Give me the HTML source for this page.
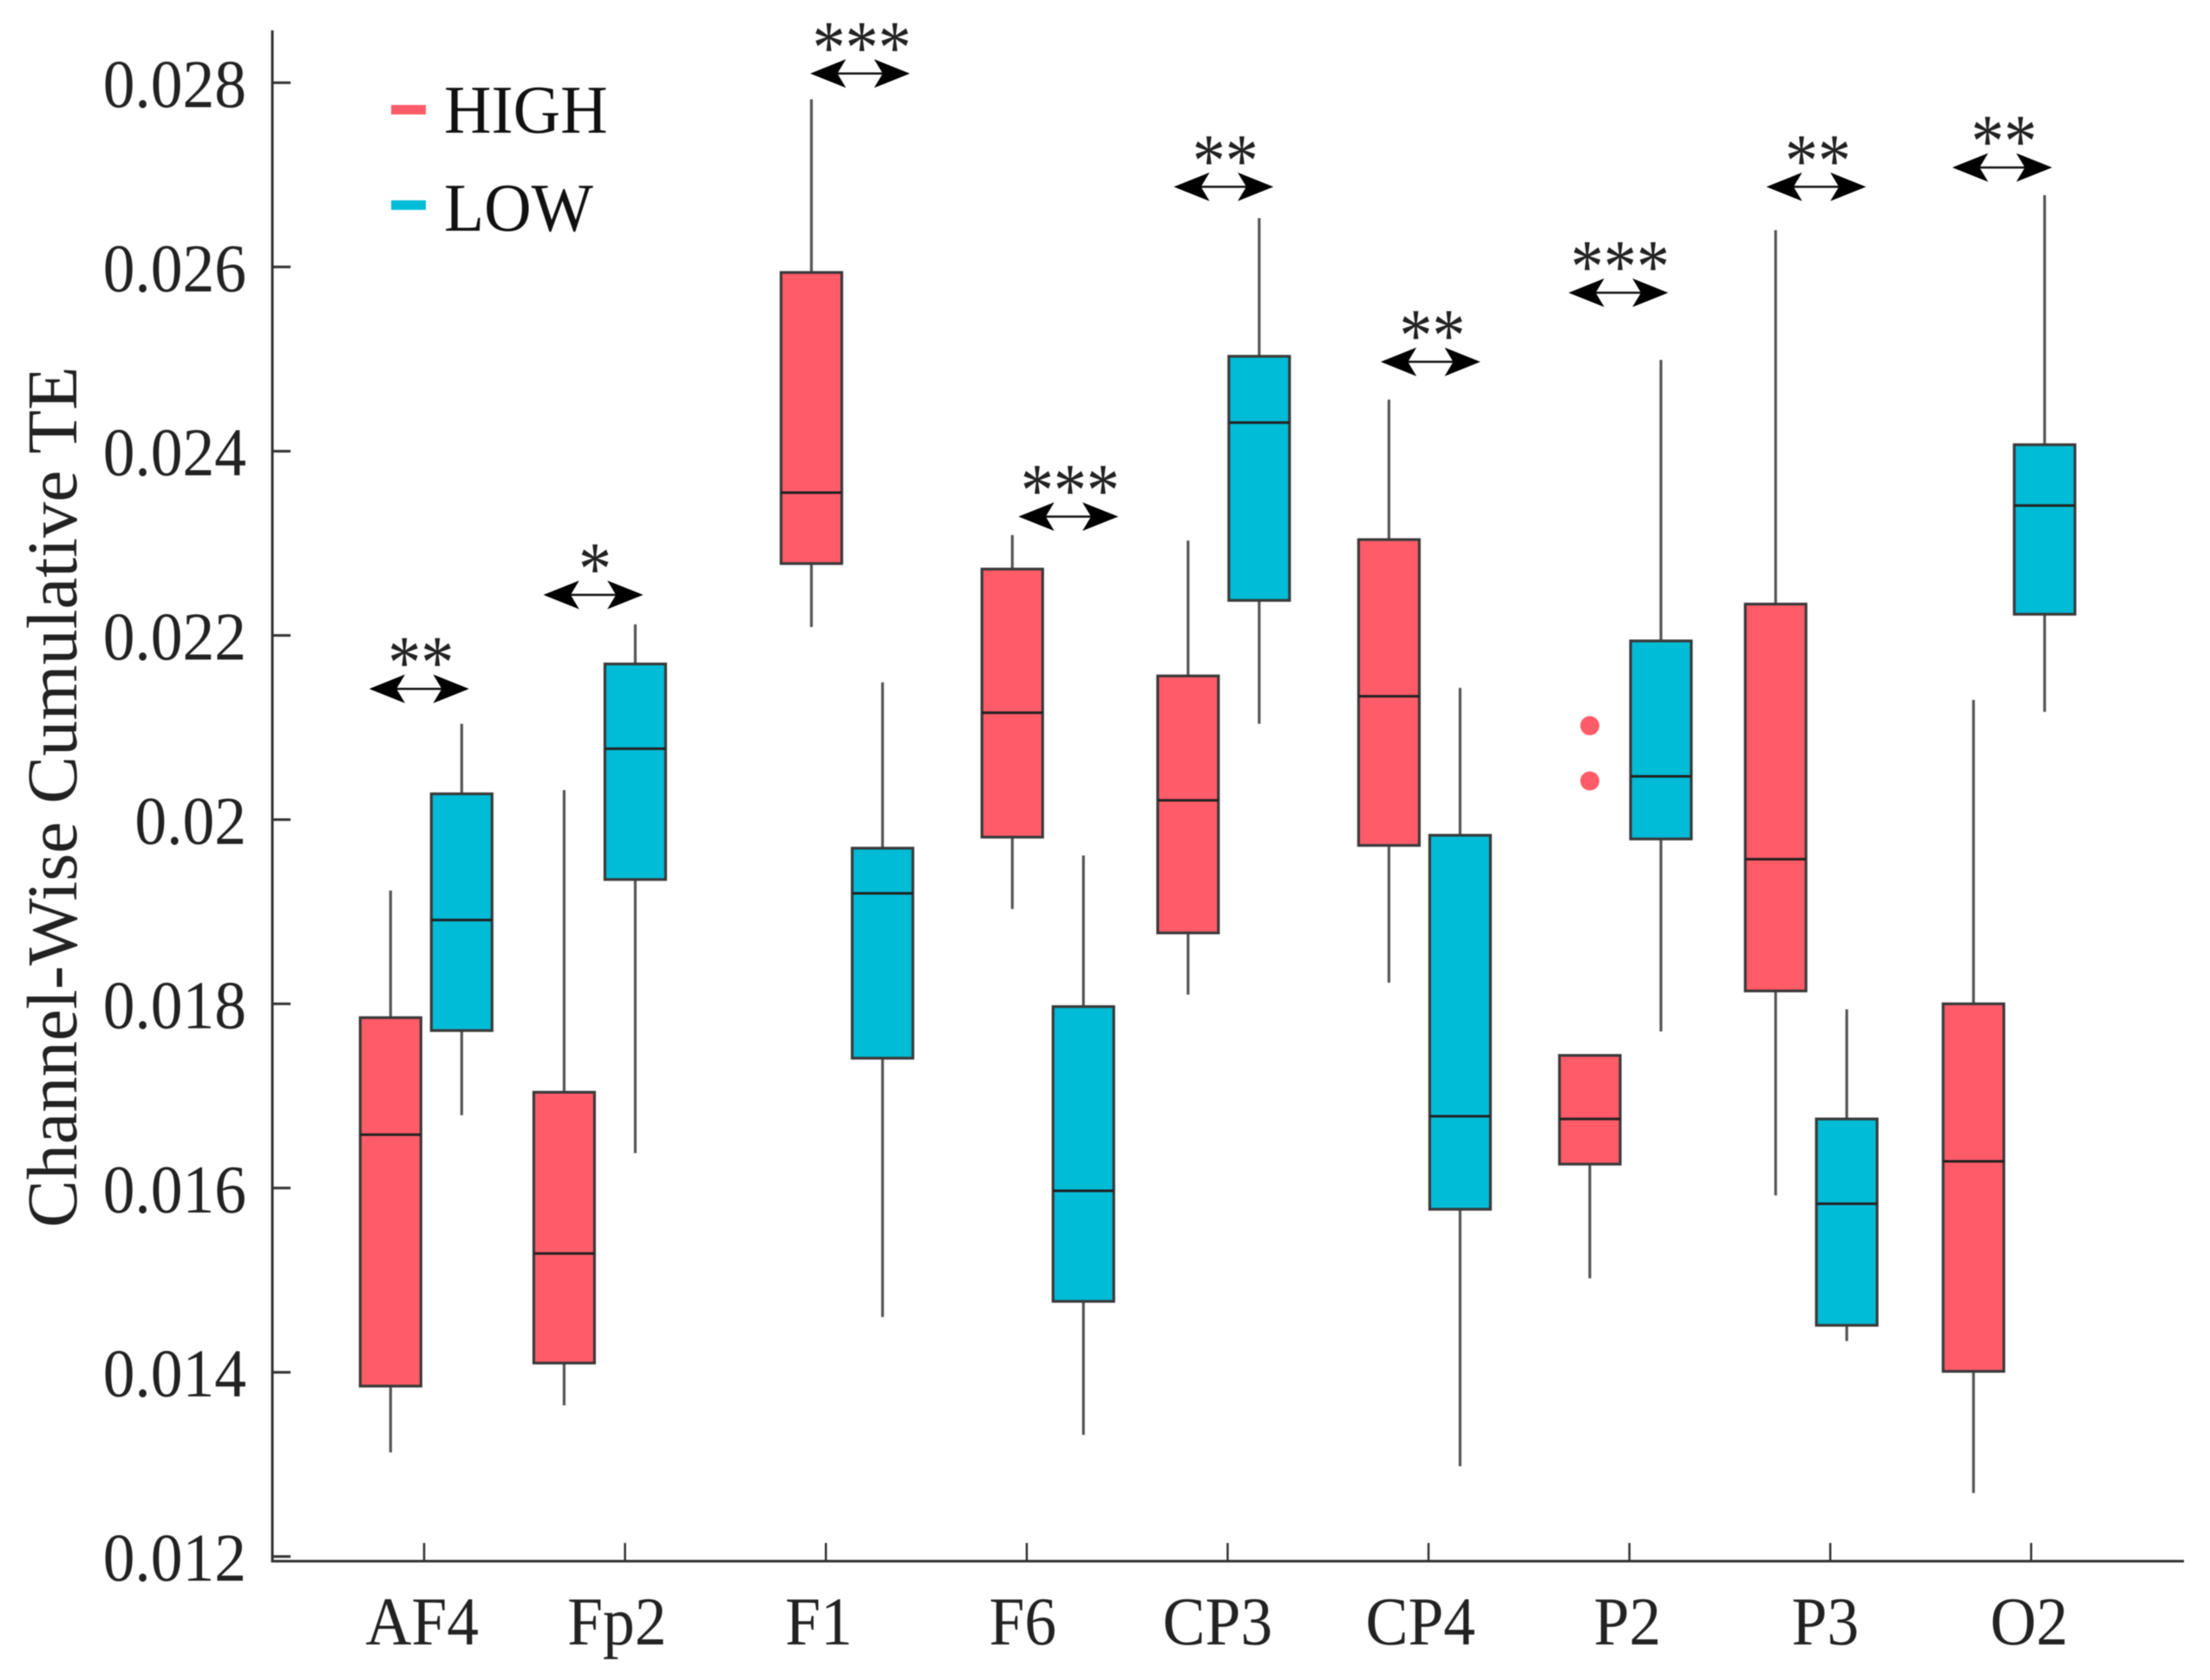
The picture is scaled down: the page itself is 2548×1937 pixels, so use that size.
<!DOCTYPE html>
<html>
<head>
<meta charset="utf-8">
<title>Channel-Wise Cumulative TE</title>
<style>
html,body{margin:0;padding:0;background:#fff;}
svg{display:block;filter:blur(0.6px);}
text{font-family:"Liberation Serif",serif;fill:#222;text-rendering:geometricPrecision;}
</style>
</head>
<body>
<svg id="chart" xmlns="http://www.w3.org/2000/svg" width="2548" height="1937" viewBox="0 0 2548 1937">
<rect width="2548" height="1937" fill="#fff"/>
<text transform="translate(88,919) rotate(-90)" text-anchor="middle" font-size="82.4">Channel-Wise Cumulative TE</text>
<rect x="451" y="121" width="40" height="11" fill="#ff5b69"/>
<text transform="translate(512,153) scale(0.955,1)" font-size="79" style="fill:#111">HIGH</text>
<rect x="451" y="231" width="40" height="11" fill="#00bcd6"/>
<text transform="translate(512,266) scale(0.955,1)" font-size="79" style="fill:#111">LOW</text>
</svg>
<script>
const categories = ['AF4','Fp2','F1','F6','CP3','CP4','P2','P3','O2'];
const yTicks = [0.012,0.014,0.016,0.018,0.02,0.022,0.024,0.026,0.028];
const yTickLabels = ['0.012','0.014','0.016','0.018','0.02','0.022','0.024','0.026','0.028'];
// group centres and annotation centres, in category-axis units
const groupCenters = [0.01,0.874,2.105,3.105,3.98,4.98,5.98,6.905,7.89];
const labelCenters = [-0.01,0.96,1.965,2.98,3.95,4.96,5.99,6.975,7.99];
const arrowCenters = [-0.025,0.842,2.17,3.207,3.98,5.01,5.945,6.93,7.856];
// five-number summaries: whisker low, q1, median, q3, whisker high
const highLow = [0.01313,0.01364,0.02209,0.01903,0.01810,0.01823,0.01502,0.01592,0.01269];
const highQ1  = [0.01385,0.01410,0.02278,0.01981,0.01877,0.01972,0.01626,0.01814,0.01401];
const highMed = [0.01658,0.01529,0.02355,0.02116,0.02021,0.02134,0.01675,0.01957,0.01629];
const highQ3  = [0.01785,0.01704,0.02594,0.02272,0.02156,0.02304,0.01744,0.02234,0.01800];
const highTop = [0.01923,0.02032,0.02782,0.02309,0.02303,0.02456,0.01744,0.02640,0.02130];
const lowLow  = [0.01679,0.01638,0.01460,0.01332,0.02104,0.01298,0.01770,0.01434,0.02117];
const lowQ1   = [0.01771,0.01935,0.01741,0.01477,0.02238,0.01577,0.01979,0.01451,0.02223];
const lowMed  = [0.01891,0.02077,0.01920,0.01597,0.02431,0.01678,0.02047,0.01583,0.02341];
const lowQ3   = [0.02028,0.02169,0.01969,0.01797,0.02503,0.01983,0.02194,0.01675,0.02407];
const lowTop  = [0.02104,0.02212,0.02149,0.01961,0.02653,0.02143,0.02499,0.01794,0.02678];
const highOutlierCategory = [6,6];
const highOutliers = [0.02102,0.02042];
const sigLabels = ['**','*','***','***','**','**','***','**','**'];
const sigLevels = [0.02142,0.02244,0.02810,0.02329,0.02687,0.02497,0.02572,0.02687,0.02708];

const svg = document.getElementById('chart');
const NS = 'http://www.w3.org/2000/svg';
const xScale = c => 489 + c * 231.6;
const yScale = v => 95.4 + (0.028 - v) / 0.002 * 212.4;
const axisColor = '#333';
const boxOffset = 41, boxWidth = 70;

function make(tag, attrs, parent) {
  const el = document.createElementNS(NS, tag);
  for (const k in attrs) el.setAttribute(k, attrs[k]);
  (parent || svg).appendChild(el);
  return el;
}

// axes
const yAxis = make('line', {x1:314, x2:314, y1:35, y2:1800, stroke:axisColor, 'stroke-width':3});


const xAxis = make('line', {x1:312.5, x2:2518, y1:1800, y2:1800, stroke:axisColor, 'stroke-width':3});



yTicks.forEach((t, i) => {
  const y = yScale(t);
  const tick = make('line', {x1:314, x2:335, y1:y, y2:y, stroke:axisColor, 'stroke-width':3});
  
  
  const lab = make('text', {transform:`translate(284,${y + 28}) scale(0.93,1)`, 'text-anchor':'end', 'font-size':79});
  lab.textContent = yTickLabels[i];
  
  
});

categories.forEach((c, i) => {
  const x = xScale(i);
  const tick = make('line', {x1:x, x2:x, y1:1779, y2:1800, stroke:axisColor, 'stroke-width':2.5});
  
  
  const lab = make('text', {transform:`translate(${xScale(labelCenters[i])},1896) scale(0.93,1)`, 'text-anchor':'middle', 'font-size':79});
  lab.textContent = c;
  
  
});

function drawBox(cx, lo, q1, med, q3, hi, fill, groupName) {
  const g = make('g', {});
  
  
  const whisker = make('line', {x1:cx, x2:cx, y1:yScale(hi), y2:yScale(lo), stroke:'#555', 'stroke-width':3.2}, g);
  
  
  const box = make('rect', {x:cx - boxWidth / 2, y:yScale(q3), width:boxWidth, height:yScale(q1) - yScale(q3), fill:fill, stroke:'#3a3a3a', 'stroke-width':3.2}, g);
  
  
  const median = make('line', {x1:cx - boxWidth / 2, x2:cx + boxWidth / 2, y1:yScale(med), y2:yScale(med), stroke:'#222', 'stroke-width':3}, g);
  
  
}

categories.forEach((c, i) => {
  const mid = xScale(groupCenters[i]);
  drawBox(mid - boxOffset, highLow[i], highQ1[i], highMed[i], highQ3[i], highTop[i], '#ff5b69', 'box-high-' + c.toLowerCase());
  drawBox(mid + boxOffset, lowLow[i], lowQ1[i], lowMed[i], lowQ3[i], lowTop[i], '#00bcd6', 'box-low-' + c.toLowerCase());
});

highOutliers.forEach((v, i) => {
  const cx = xScale(groupCenters[highOutlierCategory[i]]) - boxOffset;
  const dot = make('circle', {cx:cx, cy:yScale(v), r:11, fill:'#ff5b69'});
  
  
});

sigLabels.forEach((s, i) => {
  const cx = xScale(arrowCenters[i]);
  const y = yScale(sigLevels[i]);
  const g = make('g', {});
  
  
  make('line', {x1:cx - 40, x2:cx + 40, y1:y, y2:y, stroke:'#111', 'stroke-width':2.5}, g);
  make('polygon', {points:`${cx-55.5},${y} ${cx-18},${y-15} ${cx-27},${y} ${cx-18},${y+15}`, fill:'#000', stroke:'#000', 'stroke-width':1.5}, g);
  make('polygon', {points:`${cx+55.5},${y} ${cx+18},${y-15} ${cx+27},${y} ${cx+18},${y+15}`, fill:'#000', stroke:'#000', 'stroke-width':1.5}, g);
  const t = make('text', {transform:`translate(${cx + 2},${y - 1}) scale(1,1.15)`, 'text-anchor':'middle', 'font-size':76});
  t.textContent = s;
  
  
});
</script>
</body>
</html>
